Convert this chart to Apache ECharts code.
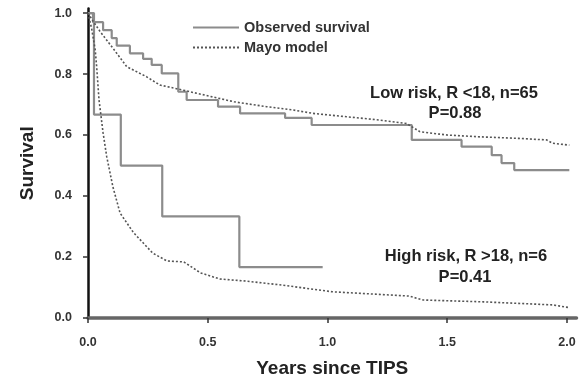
<!DOCTYPE html>
<html>
<head>
<meta charset="utf-8">
<script src="https://cdn.jsdelivr.net/npm/echarts@6/dist/echarts.min.js"></script>
<style>
  html, body { margin: 0; padding: 0; background: #fff; }
  #chart { width: 583px; height: 381px; }
</style>
</head>
<body>
<div id="chart"></div>
<script>
// Kaplan-Meier style curves (years, survival)
const lowObsT = [0, 0.021, 0.063, 0.099, 0.12, 0.175, 0.23, 0.266, 0.308, 0.377, 0.412, 0.543, 0.635, 0.823, 0.934, 1.352, 1.56, 1.686, 1.727, 1.78, 2.01]
const lowObsS = [1.0, 0.97, 0.944, 0.918, 0.893, 0.868, 0.85, 0.83, 0.802, 0.742, 0.715, 0.693, 0.671, 0.656, 0.633, 0.584, 0.562, 0.534, 0.508, 0.485, 0.485]

const lowMayoT = [0, 0.02, 0.05, 0.105, 0.162, 0.245, 0.30, 0.37, 0.454, 0.61, 0.746, 0.857, 0.94, 1.08, 1.22, 1.33, 1.386, 1.50, 1.64, 1.80, 1.915, 1.94, 2.01]
const lowMayoS = [1.0, 0.975, 0.94, 0.884, 0.824, 0.791, 0.764, 0.752, 0.737, 0.709, 0.693, 0.682, 0.671, 0.66, 0.649, 0.638, 0.611, 0.60, 0.594, 0.589, 0.584, 0.573, 0.567]

const highObsT = [0, 0.025, 0.137, 0.31, 0.632, 0.98]
const highObsS = [1.0, 0.667, 0.5, 0.333, 0.167, 0.167]

const highMayoT = [0, 0.015, 0.03, 0.036, 0.046, 0.063, 0.078, 0.104, 0.134, 0.19, 0.27, 0.33, 0.40, 0.47, 0.55, 0.66, 0.81, 1.02, 1.34, 1.40, 1.65, 1.94, 2.01]
const highMayoS = [1.0, 0.95, 0.88, 0.826, 0.715, 0.607, 0.53, 0.43, 0.344, 0.28, 0.213, 0.187, 0.184, 0.148, 0.128, 0.121, 0.108, 0.086, 0.072, 0.059, 0.053, 0.043, 0.034]

const xTicks = [0, 0.5, 1.0, 1.5, 2.0]
const yTicks = [0, 0.2, 0.4, 0.6, 0.8, 1.0]

const zip = (t, s) => t.map((v, i) => [v, s[i]])

const font = 'Liberation Sans, Arial, sans-serif'
const obsColor = '#8c8c8c'
const mayoColor = '#555'

const chart = echarts.init(document.getElementById('chart'))
chart.setOption({
  animation: false,
  grid: { left: 88, right: 6.5, top: 8.5, bottom: 63, outerBoundsMode: 'none' },
  legend: {
    orient: 'vertical',
    left: 187,
    top: 15,
    itemWidth: 46,
    itemHeight: 6,
    itemGap: 5,
    itemStyle: { opacity: 0 },
    data: ['Observed survival', 'Mayo model'],
    textStyle: { fontFamily: font, fontWeight: 'bold', fontSize: 14.5, color: '#333' }
  },
  xAxis: {
    type: 'value',
    min: 0,
    max: 2.04,
    name: 'Years since TIPS',
    nameLocation: 'middle',
    nameGap: 41,
    nameTextStyle: { fontFamily: font, fontWeight: 'bold', fontSize: 19, color: '#222' },
    axisLine: { lineStyle: { color: '#666', width: 3.5 } },
    axisTick: { customValues: xTicks, length: 5, lineStyle: { color: '#333', width: 1.5 } },
    axisLabel: {
      customValues: xTicks,
      margin: 18,
      formatter: v => v.toFixed(1),
      fontFamily: font, fontWeight: 'bold', fontSize: 12.5, color: '#333'
    },
    splitLine: { show: false }
  },
  yAxis: {
    type: 'value',
    min: 0,
    max: 1.015,
    name: 'Survival',
    nameLocation: 'middle',
    nameGap: 51,
    nameTextStyle: { fontFamily: font, fontWeight: 'bold', fontSize: 19, color: '#222' },
    axisLine: { lineStyle: { color: '#111', width: 2.5 } },
    axisTick: { customValues: yTicks, length: 5, lineStyle: { color: '#333', width: 1.5 } },
    axisLabel: {
      customValues: yTicks,
      margin: 16,
      formatter: v => v.toFixed(1),
      fontFamily: font, fontWeight: 'bold', fontSize: 12.5, color: '#333'
    },
    splitLine: { show: false }
  },
  series: [
    {
      name: 'Observed survival', type: 'line', step: 'end', symbol: 'none',
      lineStyle: { color: obsColor, width: 2.2 }, itemStyle: { color: obsColor },
      data: zip(lowObsT, lowObsS)
    },
    {
      name: 'Observed survival', type: 'line', step: 'end', symbol: 'none',
      lineStyle: { color: obsColor, width: 2.2 }, itemStyle: { color: obsColor },
      data: zip(highObsT, highObsS)
    },
    {
      name: 'Mayo model', type: 'line', symbol: 'none',
      lineStyle: { color: mayoColor, width: 1.6, type: [2, 2] }, itemStyle: { color: mayoColor },
      data: zip(lowMayoT, lowMayoS)
    },
    {
      name: 'Mayo model', type: 'line', symbol: 'none',
      lineStyle: { color: mayoColor, width: 1.6, type: [2, 2] }, itemStyle: { color: mayoColor },
      data: zip(highMayoT, highMayoS)
    }
  ],
  graphic: [
    { type: 'text', x: 454, y: 93, style: { text: 'Low risk, R <18, n=65', align: 'center', verticalAlign: 'middle', font: 'bold 16.5px ' + font, fill: '#222' } },
    { type: 'text', x: 455, y: 113, style: { text: 'P=0.88', align: 'center', verticalAlign: 'middle', font: 'bold 16.5px ' + font, fill: '#222' } },
    { type: 'text', x: 466, y: 256, style: { text: 'High risk, R >18, n=6', align: 'center', verticalAlign: 'middle', font: 'bold 16.5px ' + font, fill: '#222' } },
    { type: 'text', x: 465, y: 277, style: { text: 'P=0.41', align: 'center', verticalAlign: 'middle', font: 'bold 16.5px ' + font, fill: '#222' } }
  ]
})
</script>
</body>
</html>
